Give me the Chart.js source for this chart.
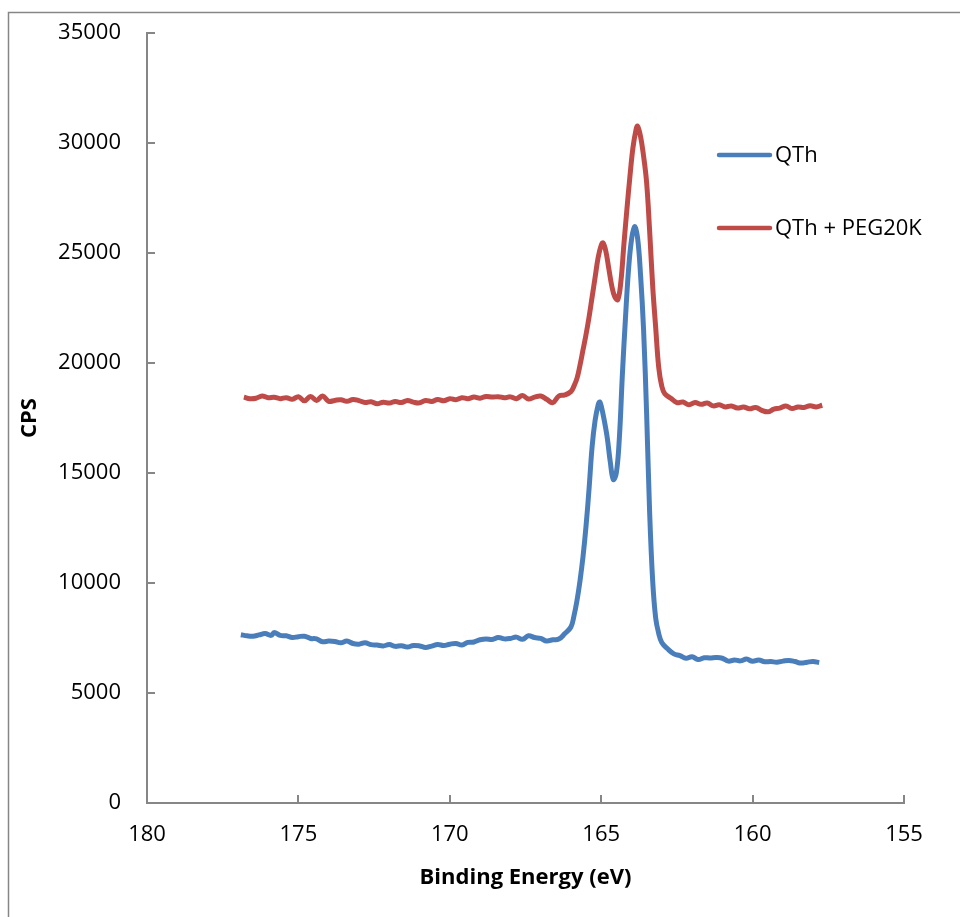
<!DOCTYPE html>
<html>
<head>
<meta charset="utf-8">
<script src="https://cdn.jsdelivr.net/npm/chart.js@4/dist/chart.umd.min.js"></script>
<style>
  html, body { margin: 0; padding: 0; background: #fff; }
  #wrap { width: 960px; height: 917px; position: relative; }
</style>
</head>
<body>
<div id="wrap"><canvas id="xps" width="960" height="917"></canvas></div>
<script>
// QTh spectrum (binding energy in eV, counts per second)
const qthEnergy = [
  176.9, 176.7, 176.5, 176.3, 176.1, 175.9, 175.8, 175.6, 175.4, 175.2,
  175.0, 174.8, 174.6, 174.4, 174.2, 174.0, 173.8, 173.6, 173.4, 173.2,
  173.0, 172.8, 172.6, 172.4, 172.2, 172.0, 171.8, 171.6, 171.4, 171.2,
  171.0, 170.8, 170.6, 170.4, 170.2, 170.0, 169.8, 169.6, 169.4, 169.2,
  169.0, 168.8, 168.6, 168.4, 168.2, 168.0, 167.8, 167.6, 167.4, 167.2,
  167.0, 166.8, 166.6, 166.4, 166.2, 166.0, 165.9, 165.8, 165.7, 165.6,
  165.5, 165.4, 165.3, 165.2, 165.1, 165.05, 165.0, 164.9, 164.8, 164.7,
  164.6, 164.5, 164.4, 164.3, 164.2, 164.1, 164.0, 163.9, 163.8, 163.7,
  163.6, 163.5, 163.4, 163.3, 163.2, 163.1, 163.0, 162.8, 162.6, 162.4,
  162.2, 162.0, 161.8, 161.6, 161.4, 161.2, 161.0, 160.8, 160.6, 160.4,
  160.2, 160.0, 159.8, 159.6, 159.4, 159.2, 159.0, 158.8, 158.6, 158.4,
  158.2, 158.0, 157.8
];
const qthCps = [
  7650, 7600, 7580, 7640, 7700, 7620, 7750, 7620, 7600, 7520,
  7560, 7580, 7480, 7460, 7330, 7360, 7340, 7280, 7360, 7250,
  7220, 7280, 7200, 7180, 7140, 7200, 7120, 7150, 7090, 7160,
  7140, 7070, 7130, 7200, 7160, 7220, 7250, 7180, 7300, 7320,
  7420, 7460, 7430, 7520, 7460, 7480, 7540, 7440, 7600, 7520,
  7480, 7360, 7420, 7450, 7700, 8000, 8500, 9200, 10100, 11200,
  12600, 14300, 16200, 17400, 18100, 18230, 18050, 17400, 16600, 15500,
  14700, 15000, 16600, 19500, 22000, 24200, 25600, 26200, 25700, 24000,
  21500, 17700, 13200, 10100, 8400, 7700, 7300, 7000, 6780, 6700,
  6580, 6650, 6520, 6600, 6590, 6610, 6580, 6450, 6500, 6460,
  6540, 6440, 6500, 6420, 6430, 6400, 6450, 6480, 6430, 6360,
  6400, 6430, 6380
];

// QTh + PEG20K spectrum
const pegEnergy = [
  176.8, 176.6, 176.4, 176.2, 176.0, 175.8, 175.6, 175.4, 175.2, 175.0,
  174.8, 174.6, 174.4, 174.2, 174.0, 173.8, 173.6, 173.4, 173.2, 173.0,
  172.8, 172.6, 172.4, 172.2, 172.0, 171.8, 171.6, 171.4, 171.2, 171.0,
  170.8, 170.6, 170.4, 170.2, 170.0, 169.8, 169.6, 169.4, 169.2, 169.0,
  168.8, 168.6, 168.4, 168.2, 168.0, 167.8, 167.6, 167.4, 167.2, 167.0,
  166.8, 166.6, 166.4, 166.2, 166.0, 165.9, 165.8, 165.7, 165.6, 165.5,
  165.4, 165.3, 165.2, 165.1, 165.0, 164.94, 164.85, 164.75, 164.65, 164.55,
  164.45, 164.35, 164.25, 164.15, 164.05, 163.95, 163.85, 163.8, 163.7, 163.6,
  163.5, 163.4, 163.3, 163.2, 163.1, 163.0, 162.9, 162.7, 162.5, 162.3,
  162.1, 161.9, 161.7, 161.5, 161.3, 161.1, 160.9, 160.7, 160.5, 160.3,
  160.1, 159.9, 159.7, 159.5, 159.3, 159.1, 158.9, 158.7, 158.5, 158.3,
  158.1, 157.9, 157.7
];
const pegCps = [
  18450, 18380, 18400, 18500, 18420, 18440, 18380, 18420, 18350, 18470,
  18280, 18480, 18300, 18500, 18260, 18300, 18330, 18260, 18340, 18290,
  18200, 18240, 18150, 18220, 18180, 18250, 18200, 18300, 18220, 18190,
  18300, 18250, 18340, 18280, 18380, 18330, 18420, 18380, 18450, 18400,
  18480, 18450, 18470, 18420, 18460, 18380, 18520, 18360, 18450, 18500,
  18350, 18200, 18500, 18550, 18700, 18950, 19300, 19900, 20600, 21300,
  22100, 23000, 23900, 24800, 25350, 25460, 25100, 24300, 23500, 23000,
  22880, 23700, 25400, 27000, 28500, 29800, 30600, 30770, 30300, 29400,
  28200, 26000, 23500, 21600, 19800, 18950, 18600, 18400, 18200, 18230,
  18100, 18200, 18120, 18180, 18050, 18100, 18000, 18050, 17950, 18000,
  17920, 17980, 17850, 17780, 17900, 17950, 18050, 17930, 18000, 17980,
  18060, 18000, 18080
];

const seriesLabels = ['QTh', 'QTh + PEG20K'];
const seriesColors = ['#4A7EBB', '#BE4B48'];

const axisGray = '#868686';
const fontFamily = "'Open Sans', 'Liberation Sans', sans-serif";

function toPoints(xs, ys) {
  return xs.map((x, i) => ({ x: x, y: ys[i] }));
}

// outer chart frame (only left and top edges fall inside the picture)
const framePlugin = {
  id: 'frame',
  beforeDraw(chart) {
    const ctx = chart.ctx;
    ctx.save();
    ctx.strokeStyle = axisGray;
    ctx.lineWidth = 1.5;
    ctx.strokeRect(8.5, 12.5, 1200, 1200);
    ctx.restore();
  }
};

// tick marks point into the plot area, like the Excel original
const insideTicks = {
  id: 'insideTicks',
  afterDatasetsDraw(chart) {
    const { ctx, chartArea, scales } = chart;
    ctx.save();
    ctx.strokeStyle = axisGray;
    ctx.lineWidth = 2;
    ctx.beginPath();
    scales.x.ticks.forEach(t => {
      const px = Math.round(scales.x.getPixelForValue(t.value));
      ctx.moveTo(px, chartArea.bottom);
      ctx.lineTo(px, chartArea.bottom - 8);
    });
    scales.y.ticks.forEach(t => {
      const py = Math.round(scales.y.getPixelForValue(t.value));
      ctx.moveTo(chartArea.left, py);
      ctx.lineTo(chartArea.left + 8, py);
    });
    ctx.stroke();
    ctx.restore();
  }
};

// legend stacked vertically inside the plot, as in the reference
const stackedLegend = {
  id: 'stackedLegend',
  afterDraw(chart) {
    const ctx = chart.ctx;
    const rows = [155, 228];
    ctx.save();
    ctx.font = '22px ' + fontFamily;
    ctx.textBaseline = 'middle';
    chart.data.datasets.forEach((ds, i) => {
      const y = rows[i];
      ctx.strokeStyle = ds.borderColor;
      ctx.lineWidth = 4.5;
      ctx.lineCap = 'round';
      ctx.beginPath();
      ctx.moveTo(719, y);
      ctx.lineTo(770, y);
      ctx.stroke();
      ctx.fillStyle = '#000';
      ctx.fillText(ds.label, 775, y + 1);
    });
    ctx.restore();
  }
};

new Chart(document.getElementById('xps'), {
  type: 'line',
  data: {
    datasets: [
      {
        label: seriesLabels[0],
        data: toPoints(qthEnergy, qthCps),
        borderColor: seriesColors[0],
        borderWidth: 5,
        pointRadius: 0,
        tension: 0.4,
        fill: false
      },
      {
        label: seriesLabels[1],
        data: toPoints(pegEnergy, pegCps),
        borderColor: seriesColors[1],
        borderWidth: 5,
        pointRadius: 0,
        tension: 0.4,
        fill: false
      }
    ]
  },
  options: {
    responsive: false,
    animation: false,
    layout: { padding: { top: 33, right: 56, left: 0, bottom: 0 } },
    plugins: {
      legend: { display: false },
      tooltip: { enabled: false }
    },
    scales: {
      x: {
        type: 'linear',
        reverse: true,
        min: 155,
        max: 180,
        afterFit: s => {
          s.height = 114;
          s.paddingLeft = 0;
          s.paddingRight = 0;
        },
        ticks: {
          stepSize: 5,
          padding: 19,
          color: '#000',
          font: { family: fontFamily, size: 22 },
          callback: v => String(v)
        },
        grid: { display: false, drawTicks: false },
        border: { display: true, color: axisGray, width: 2 },
        title: {
          display: true,
          text: 'Binding Energy (eV)',
          color: '#000',
          font: { family: fontFamily, size: 22, weight: 'bold' },
          padding: { top: 4, bottom: 26 }
        }
      },
      y: {
        min: 0,
        max: 35000,
        afterFit: s => {
          s.width = 147;
          s.paddingTop = 0;
          s.paddingBottom = 0;
        },
        ticks: {
          stepSize: 5000,
          padding: 26,
          color: '#000',
          font: { family: fontFamily, size: 22 },
          callback: v => String(v)
        },
        grid: { display: false, drawTicks: false },
        border: { display: true, color: axisGray, width: 2 },
        title: {
          display: true,
          text: 'CPS',
          color: '#000',
          font: { family: fontFamily, size: 22, weight: 'bold' },
          padding: { top: 17, bottom: 4 }
        }
      }
    }
  },
  plugins: [framePlugin, insideTicks, stackedLegend]
});
</script>
</body>
</html>
